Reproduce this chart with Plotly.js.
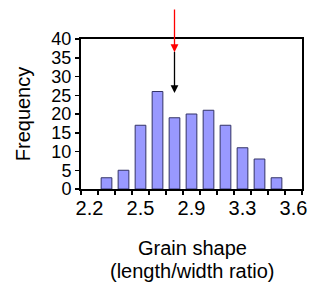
<!DOCTYPE html>
<html>
<head>
<meta charset="utf-8">
<script src="https://cdn.plot.ly/plotly-3.0.1.min.js"></script>
<style>html,body{margin:0;padding:0;background:#fff;}#chart{width:310px;height:283px;}</style>
</head>
<body>
<div id="chart"></div>
<script>
// Bin index (13 bins) and frequencies
var bins = [0, 1, 2, 3, 4, 5, 6, 7, 8, 9, 10, 11, 12];
var frequency = [0, 3, 5, 17, 26, 19, 20, 21, 17, 11, 8, 3, 0];
var tickLabels = ["2.2", "", "", "2.5", "", "", "2.9", "", "", "3.3", "", "", "3.6"];
var yTicks = [0, 5, 10, 15, 20, 25, 30, 35, 40];
var xTitleLines = ["Grain shape", "(length/width ratio)"];
// Arrow marks (bin index, head value, tail value)
var blackArrow = {bin: 5, head: 25.6, tail: 37.0};
var redArrow = {bin: 5, head: 36.5, tail: 48.3};

var trace = {
  type: 'bar',
  x: bins,
  y: frequency,
  marker: {color: '#9999ff', line: {color: '#333366', width: frequency.map(function (v) { return v > 0 ? 1 : 0; })}},
  hoverinfo: 'skip'
};

var fam = 'Liberation Sans, Arial, sans-serif';

var layout = {
  width: 310, height: 283,
  margin: {l: 81, r: 8, t: 39, b: 94},
  paper_bgcolor: '#fff', plot_bgcolor: '#fff',
  showlegend: false,
  bargap: 0.37,
  font: {family: fam, color: '#000'},
  xaxis: {
    type: 'category',
    range: [-0.5, 12.5],
    tickmode: 'array', tickvals: bins, ticktext: tickLabels,
    tickson: 'boundaries', tickangle: 0,
    ticks: 'outside', ticklen: 4, tickwidth: 1.5, tickcolor: '#000',
    showline: true, linecolor: '#000', linewidth: 2, mirror: true,
    showgrid: false, zeroline: false,
    tickfont: {size: 20, family: fam, color: '#000'},
    automargin: false
  },
  yaxis: {
    range: [0, 40],
    tickmode: 'array', tickvals: yTicks,
    ticks: 'outside', ticklen: 4, tickwidth: 1.5, tickcolor: '#000',
    showline: true, linecolor: '#000', linewidth: 2, mirror: true,
    showgrid: false, zeroline: false,
    tickfont: {size: 18, family: fam, color: '#000'},
    title: {text: 'Frequency', font: {size: 20, family: fam, color: '#000'}, standoff: 15},
    automargin: false
  },
  annotations: [
    {x: blackArrow.bin, y: blackArrow.head, ax: blackArrow.bin, ay: blackArrow.tail,
     xref: 'x', yref: 'y', axref: 'x', ayref: 'y', text: '', showarrow: true,
     arrowhead: 2, arrowsize: 1.2, arrowwidth: 1.3, arrowcolor: '#000'},
    {x: redArrow.bin, y: redArrow.head, ax: redArrow.bin, ay: redArrow.tail,
     xref: 'x', yref: 'y', axref: 'x', ayref: 'y', text: '', showarrow: true,
     arrowhead: 2, arrowsize: 1.2, arrowwidth: 1.3, arrowcolor: '#ff0000'},
    {x: 0.505, y: -0.393, xref: 'paper', yref: 'paper', xanchor: 'center', yanchor: 'middle',
     text: xTitleLines[0], showarrow: false, font: {size: 20, family: fam, color: '#000'}},
    {x: 0.505, y: -0.547, xref: 'paper', yref: 'paper', xanchor: 'center', yanchor: 'middle',
     text: xTitleLines[1], showarrow: false, font: {size: 20, family: fam, color: '#000'}}
  ]
};

Plotly.newPlot('chart', [trace], layout, {displayModeBar: false, staticPlot: true});
</script>
</body>
</html>
